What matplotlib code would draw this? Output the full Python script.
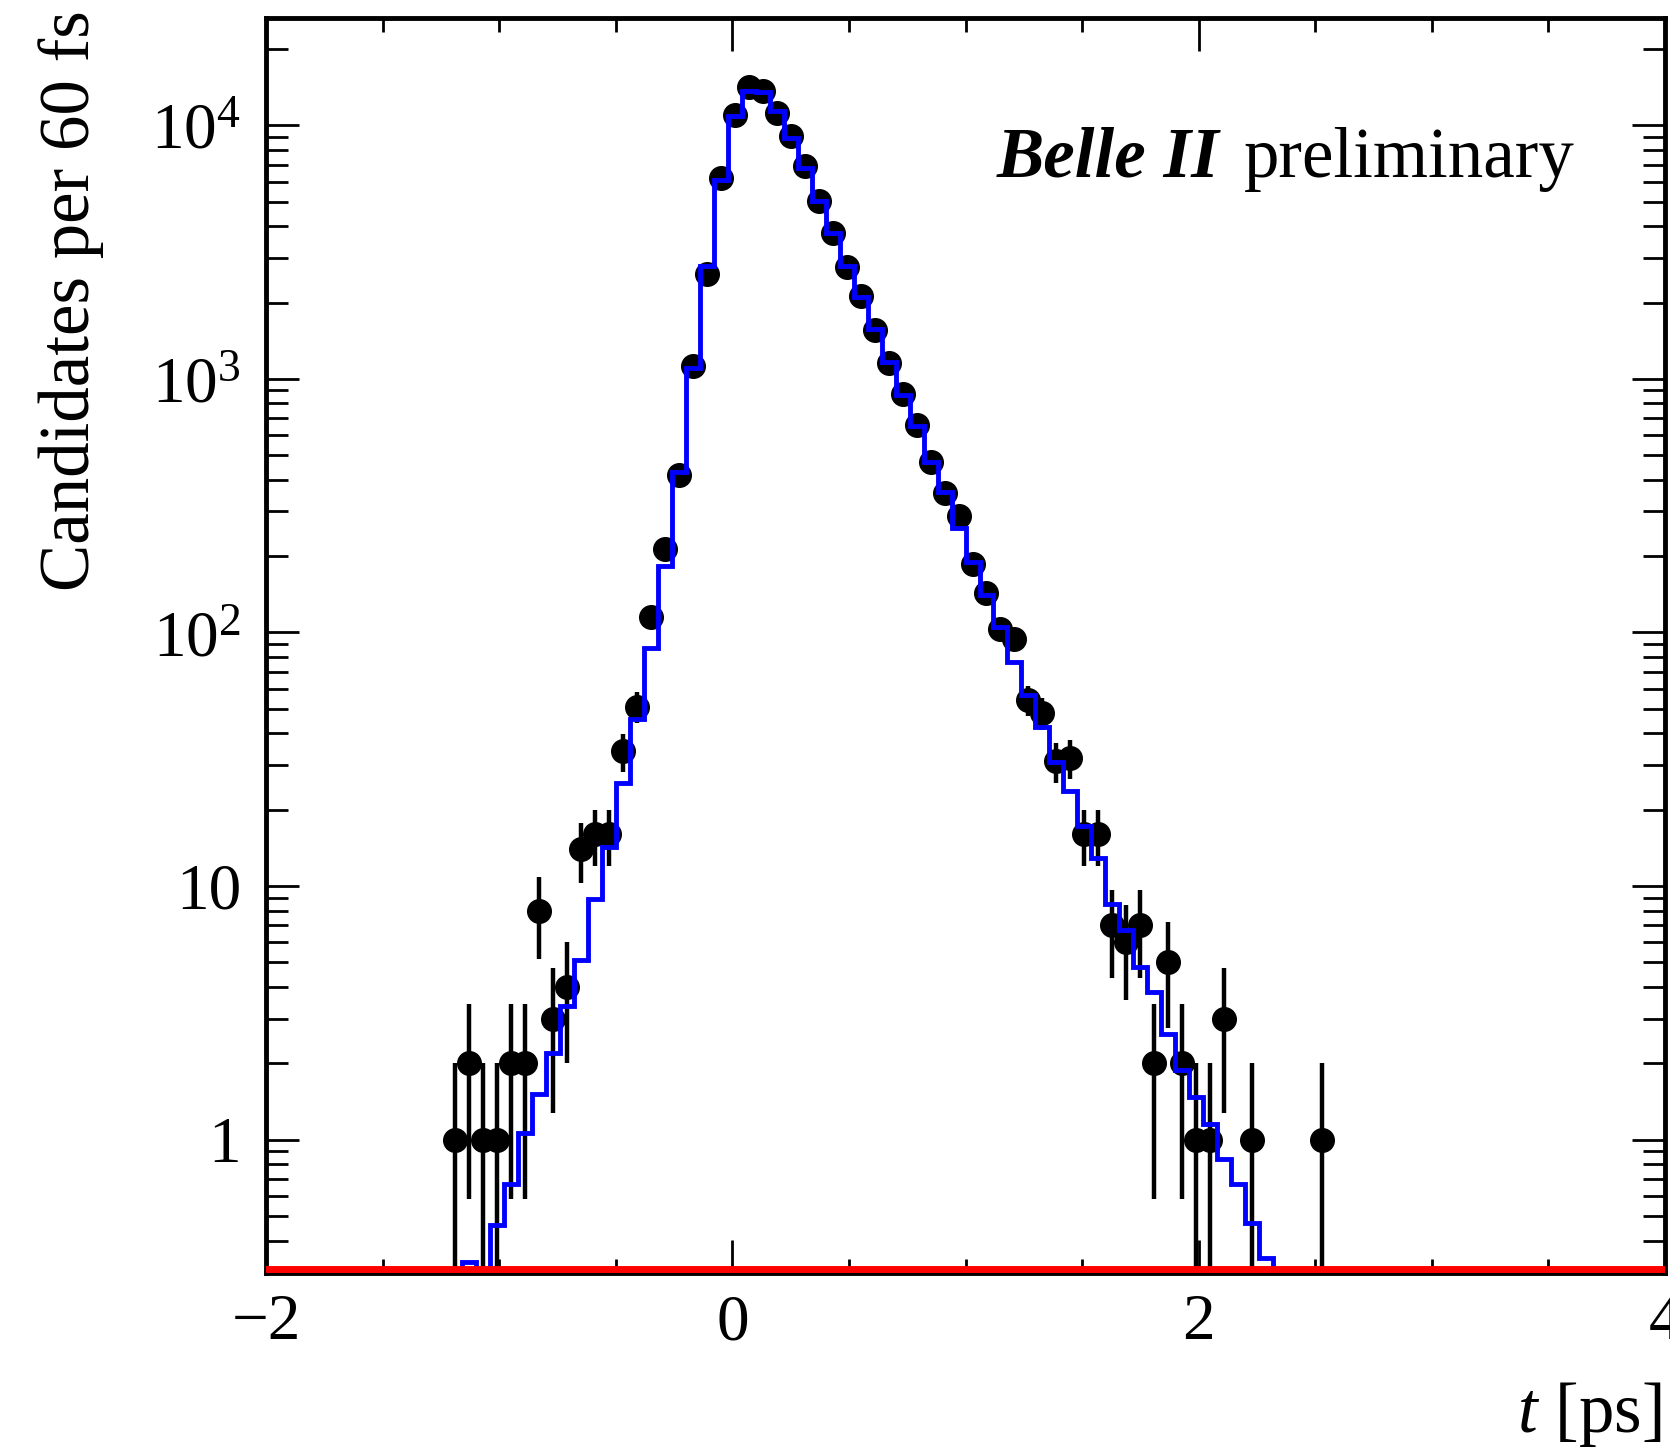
#!/usr/bin/env python

import numpy as np
import matplotlib
matplotlib.use("Agg")
import matplotlib.pyplot as plt
from matplotlib.ticker import FixedLocator, FixedFormatter, MultipleLocator, LogLocator, NullFormatter

#### Histogram binning: 100 bins of 60 fs between -2 and 4 ps ####
t_min = -2.0
t_max = 4.0
n_bins = 100
first_bin = 13   # first bin that has content in the data

# data counts, bins 13 .. 75
counts = [1, 2, 1, 1, 2, 2, 8, 3, 4, 14,
          16, 16, 34, 51, 115, 213, 419, 1120, 2600, 6170,
          10950, 14170, 13600, 11200, 9050, 6880, 5050, 3760, 2760, 2130,
          1555, 1150, 868, 655, 468, 355, 288, 186, 143, 103,
          94, 54, 48, 31, 32, 16, 16, 7, 6, 7,
          2, 5, 2, 1, 1, 3, 0, 1, 0, 0,
          0, 0, 1]

# fit model, bins 13 .. 72
model = [0.2, 0.33, 0.25, 0.46, 0.67, 1.06, 1.51, 2.19, 3.37, 5.1,
         8.9, 14.3, 25.5, 45.5, 87, 183, 431, 1106, 2775, 6100,
         10900, 13700, 13500, 11350, 8910, 6790, 5010, 3760, 2780, 2110,
         1574, 1161, 867, 654, 469, 357, 258, 190, 141, 105,
         76.7, 56.6, 42.5, 30.7, 23.8, 17.3, 12.9, 8.5, 6.7, 4.8,
         3.83, 2.62, 1.88, 1.47, 1.15, 0.84, 0.67, 0.47, 0.34, 0.25]

xtick_vals = [-2, 0, 2, 4]
xtick_labels = ["\u22122", "0", "2", "4"]
ytick_vals = [1, 10, 100, 1000, 10000]
ytick_labels = ["1", "10", r"$10^{2}$", r"$10^{3}$", r"$10^{4}$"]

plt.rcParams["font.family"] = ["Liberation Serif", "DejaVu Serif"]
plt.rcParams["mathtext.fontset"] = "custom"
plt.rcParams["mathtext.rm"] = "Liberation Serif"
plt.rcParams["mathtext.it"] = "Liberation Serif:italic"
plt.rcParams["mathtext.bf"] = "Liberation Serif:bold"

lab_size = 47
title_size = 51

edges = np.linspace(t_min, t_max, n_bins + 1)
centres = 0.5 * (edges[:-1] + edges[1:])

counts = np.array(counts, dtype=float)
x_data = centres[first_bin:first_bin + len(counts)]
keep = counts > 0
model = np.array(model)
model_edges = edges[first_bin:first_bin + len(model) + 1]

#### Plotting ####
fig = plt.figure(figsize=(16.7, 14.48), dpi=100)
ax = fig.add_axes([0.1593, 0.1209, 0.8377, 0.8667])

ax.set_yscale("log")
ax.set_xlim(t_min, t_max)
ax.set_ylim(0.298, 26500)

ax.errorbar(x_data[keep], counts[keep], yerr=np.sqrt(counts[keep]), fmt="o",
            color="black", markersize=17, elinewidth=3.2, capsize=0, zorder=2)
ax.stairs(model, model_edges, color="blue", linewidth=3.5, baseline=None, zorder=3)

# flat red component along the bottom of the frame
ax.axhline(0.298, color="red", linewidth=10, zorder=6)

# axis styling (ROOT like)
for sp in ax.spines.values():
    sp.set_linewidth(3.5)
    sp.set_zorder(5)

ax.xaxis.set_major_locator(FixedLocator(xtick_vals))
ax.xaxis.set_major_formatter(FixedFormatter(xtick_labels))
ax.xaxis.set_minor_locator(MultipleLocator(0.5))
ax.yaxis.set_major_locator(FixedLocator(ytick_vals))
ax.yaxis.set_major_formatter(FixedFormatter(ytick_labels))
ax.yaxis.set_minor_locator(LogLocator(base=10, subs=np.arange(2, 10)))
ax.yaxis.set_minor_formatter(NullFormatter())

ax.tick_params(which="both", direction="in", top=True, right=True, width=2.0)
ax.tick_params(which="major", length=24, labelsize=lab_size)
ax.tick_params(axis="y", which="minor", length=16)
ax.tick_params(axis="x", which="minor", length=10)
ax.tick_params(axis="y", which="major", pad=18)
ax.tick_params(axis="x", which="major", pad=15)

fig.text(0.0428, 0.993, "Candidates per 60 fs", rotation=90, ha="center", va="top",
         fontsize=title_size)
fig.text(0.9946, 0.011, r"$t$ [ps]", ha="right", va="baseline", fontsize=title_size)

fig.text(0.597, 0.8778, "Belle II", fontsize=title_size, fontweight="bold",
         fontstyle="italic", ha="left", va="baseline")
fig.text(0.745, 0.8778, "preliminary", fontsize=title_size, ha="left", va="baseline")

fig.savefig("out.png", dpi=100, facecolor="white")
print("done!")
